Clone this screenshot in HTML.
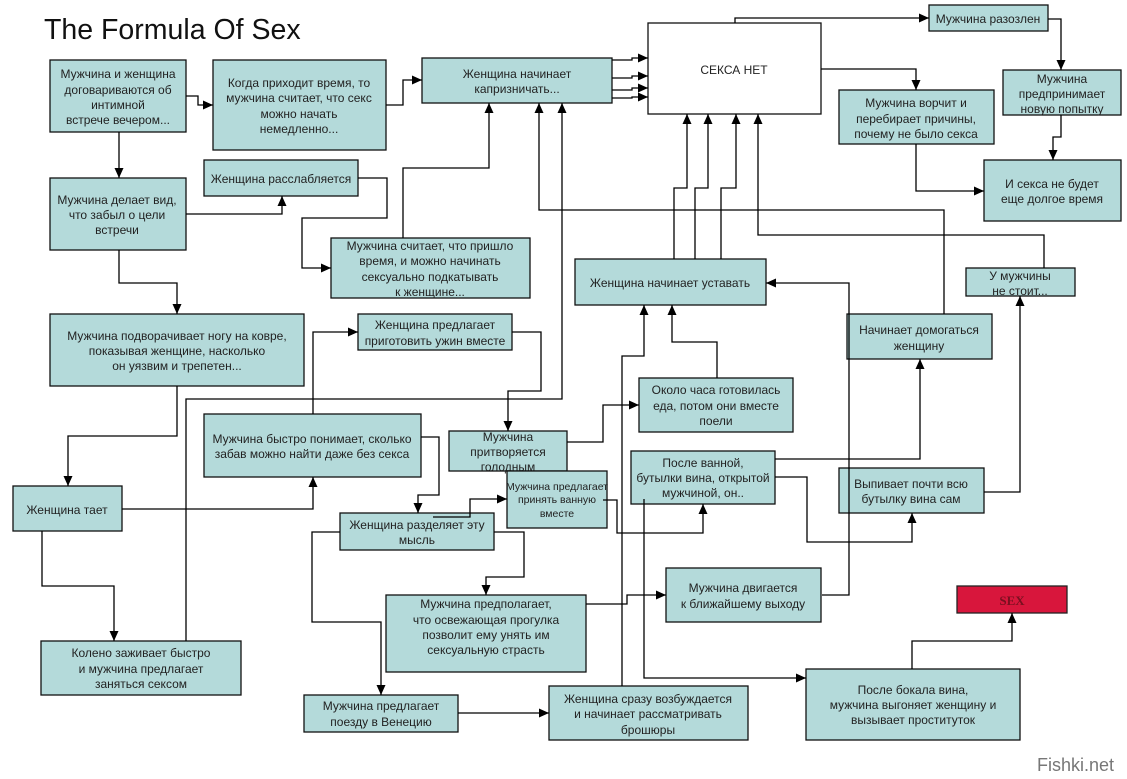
<!DOCTYPE html>
<html><head><meta charset="utf-8"><style>
html,body{margin:0;padding:0;background:#fff;}
svg{display:block;}
text{font-family:"Liberation Sans","DejaVu Sans",sans-serif;font-size:12px;fill:#222;}
.b{fill:#b4dada;stroke:#111;stroke-width:1.3;}
.l{fill:none;stroke:#000;stroke-width:1.3;}
</style></head><body>
<svg width="1127" height="779" viewBox="0 0 1127 779" xmlns="http://www.w3.org/2000/svg">
<defs><marker id="a" markerUnits="userSpaceOnUse" markerWidth="10" markerHeight="9" refX="10" refY="4.5" orient="auto"><path d="M0,0 L10,4.5 L0,9 z" fill="#000"/></marker></defs>
<text x="44" y="39" style="font-size:28.5px;fill:#111">The Formula Of Sex</text>

<g>
<rect class="b" x="50" y="60" width="136" height="72"/>
<text text-anchor="middle"><tspan x="118" y="78">Мужчина и женщина</tspan><tspan x="118" y="94">договариваются об</tspan><tspan x="118" y="109">интимной</tspan><tspan x="118" y="124">встрече вечером...</tspan></text>
<rect class="b" x="213" y="60" width="173" height="90"/>
<text text-anchor="middle"><tspan x="299" y="87">Когда приходит время, то</tspan><tspan x="299" y="102">мужчина считает, что секс</tspan><tspan x="299" y="118">можно начать</tspan><tspan x="299" y="133">немедленно...</tspan></text>
<rect class="b" x="422" y="58" width="190" height="45"/>
<text text-anchor="middle"><tspan x="517" y="78">Женщина начинает</tspan><tspan x="517" y="93">капризничать...</tspan></text>
<rect x="648" y="23" width="173" height="91" fill="#fff" stroke="#111" stroke-width="1.3"/>
<text x="734" y="74" text-anchor="middle">СЕКСА НЕТ</text>
<rect class="b" x="929" y="5" width="119" height="26"/>
<text x="988" y="23" text-anchor="middle">Мужчина разозлен</text>
<rect class="b" x="1003" y="70" width="118" height="45"/>
<text text-anchor="middle"><tspan x="1062" y="83">Мужчина</tspan><tspan x="1062" y="98">предпринимает</tspan><tspan x="1062" y="113">новую попытку</tspan></text>
<rect class="b" x="839" y="90" width="155" height="54"/>
<text text-anchor="middle"><tspan x="916" y="107">Мужчина ворчит и</tspan><tspan x="916" y="123">перебирает причины,</tspan><tspan x="916" y="138">почему не было секса</tspan></text>
<rect class="b" x="984" y="160" width="137" height="61"/>
<text text-anchor="middle"><tspan x="1052" y="188">И секса не будет</tspan><tspan x="1052" y="203">еще долгое время</tspan></text>
<rect class="b" x="50" y="178" width="136" height="72"/>
<text text-anchor="middle"><tspan x="117" y="204">Мужчина делает вид,</tspan><tspan x="117" y="219">что забыл о цели</tspan><tspan x="117" y="234">встречи</tspan></text>
<rect class="b" x="204" y="160" width="154" height="36"/>
<text x="281" y="183" text-anchor="middle">Женщина расслабляется</text>
<rect class="b" x="331" y="238" width="199" height="60"/>
<text text-anchor="middle"><tspan x="430" y="250">Мужчина считает, что пришло</tspan><tspan x="430" y="265">время, и можно начинать</tspan><tspan x="430" y="281">сексуально подкатывать</tspan><tspan x="430" y="296">к женщине...</tspan></text>
<rect class="b" x="575" y="259" width="191" height="46"/>
<text x="670" y="287" text-anchor="middle">Женщина начинает уставать</text>
<rect class="b" x="966" y="268" width="109" height="28"/>
<text text-anchor="middle"><tspan x="1020" y="280">У мужчины</tspan><tspan x="1020" y="295">не стоит...</tspan></text>
<rect class="b" x="50" y="314" width="254" height="72"/>
<text text-anchor="middle"><tspan x="177" y="340">Мужчина подворачивает ногу на ковре,</tspan><tspan x="177" y="355">показывая женщине, насколько</tspan><tspan x="177" y="370">он уязвим и трепетен...</tspan></text>
<rect class="b" x="358" y="314" width="154" height="36"/>
<text text-anchor="middle"><tspan x="435" y="329">Женщина предлагает</tspan><tspan x="435" y="345">приготовить ужин вместе</tspan></text>
<rect class="b" x="847" y="314" width="145" height="45"/>
<text text-anchor="middle"><tspan x="919" y="334">Начинает домогаться</tspan><tspan x="919" y="350">женщину</tspan></text>
<rect class="b" x="639" y="378" width="154" height="54"/>
<text text-anchor="middle"><tspan x="716" y="394">Около часа готовилась</tspan><tspan x="716" y="410">еда, потом они вместе</tspan><tspan x="716" y="425">поели</tspan></text>
<rect class="b" x="204" y="414" width="217" height="63"/>
<text text-anchor="middle"><tspan x="312" y="443">Мужчина быстро понимает, сколько</tspan><tspan x="312" y="458">забав можно найти даже без секса</tspan></text>
<rect class="b" x="449" y="431" width="118" height="40"/>
<text text-anchor="middle"><tspan x="508" y="441">Мужчина</tspan><tspan x="508" y="456">притворяется</tspan><tspan x="508" y="471">голодным</tspan></text>
<rect class="b" x="631" y="451" width="144" height="53"/>
<text text-anchor="middle"><tspan x="703" y="467">После ванной,</tspan><tspan x="703" y="482">бутылки вина, открытой</tspan><tspan x="703" y="497">мужчиной, он..</tspan></text>
<rect class="b" x="507" y="471" width="100" height="57"/>
<text text-anchor="middle" style="font-size:10.5px"><tspan x="557" y="490">Мужчина предлагает</tspan><tspan x="557" y="503">принять ванную</tspan><tspan x="557" y="517">вместе</tspan></text>
<rect class="b" x="839" y="468" width="145" height="45"/>
<text text-anchor="middle"><tspan x="911" y="488">Выпивает почти всю</tspan><tspan x="911" y="503">бутылку вина сам</tspan></text>
<rect class="b" x="13" y="486" width="109" height="45"/>
<text x="67" y="514" text-anchor="middle">Женщина тает</text>
<rect class="b" x="340" y="513" width="154" height="37"/>
<text text-anchor="middle"><tspan x="417" y="529">Женщина разделяет эту</tspan><tspan x="417" y="544">мысль</tspan></text>
<rect class="b" x="666" y="568" width="155" height="54"/>
<text text-anchor="middle"><tspan x="743" y="592">Мужчина двигается</tspan><tspan x="743" y="608">к ближайшему выходу</tspan></text>
<rect x="957" y="586" width="110" height="27" fill="#d8163c" stroke="#222" stroke-width="1.3"/>
<text x="1012" y="605" text-anchor="middle" style="font-family:'Liberation Serif',serif;font-size:13px;fill:#7a1020;font-weight:bold">SEX</text>
<rect class="b" x="386" y="595" width="200" height="77"/>
<text text-anchor="middle"><tspan x="486" y="608">Мужчина предполагает,</tspan><tspan x="486" y="624">что освежающая прогулка</tspan><tspan x="486" y="639">позволит ему унять им</tspan><tspan x="486" y="654">сексуальную страсть</tspan></text>
<rect class="b" x="41" y="641" width="200" height="54"/>
<text text-anchor="middle"><tspan x="141" y="657">Колено заживает быстро</tspan><tspan x="141" y="673">и мужчина предлагает</tspan><tspan x="141" y="688">заняться сексом</tspan></text>
<rect class="b" x="304" y="695" width="154" height="37"/>
<text text-anchor="middle"><tspan x="381" y="710">Мужчина предлагает</tspan><tspan x="381" y="726">поезду в Венецию</tspan></text>
<rect class="b" x="549" y="686" width="199" height="54"/>
<text text-anchor="middle"><tspan x="648" y="703">Женщина сразу возбуждается</tspan><tspan x="648" y="718">и начинает рассматривать</tspan><tspan x="648" y="734">брошюры</tspan></text>
<rect class="b" x="806" y="669" width="214" height="71"/>
<text text-anchor="middle"><tspan x="913" y="694">После бокала вина,</tspan><tspan x="913" y="709">мужчина выгоняет женщину и</tspan><tspan x="913" y="724">вызывает проституток</tspan></text>
</g>

<g class="l">
<polyline class="l" points="186,96 198,96 198,105 213,105" marker-end="url(#a)"/>
<polyline class="l" points="386,105 403,105 403,80 422,80" marker-end="url(#a)"/>
<polyline class="l" points="119,132 119,178" marker-end="url(#a)"/>
<polyline class="l" points="186,214 282,214 282,196" marker-end="url(#a)"/>
<polyline class="l" points="358,178 387,178 387,218 302,218 302,268 331,268" marker-end="url(#a)"/>
<polyline class="l" points="403,238 403,168 489,168 489,103" marker-end="url(#a)"/>
<polyline class="l" points="944,314 944,210 539,210 539,103" marker-end="url(#a)"/>
<polyline class="l" points="186,641 186,399 562,399 562,103" marker-end="url(#a)"/>
<polyline class="l" points="119,250 119,283 177,283 177,314" marker-end="url(#a)"/>
<polyline class="l" points="612,60 632,60 632,58 648,58" marker-end="url(#a)"/>
<polyline class="l" points="612,78 632,78 632,76 648,76" marker-end="url(#a)"/>
<polyline class="l" points="612,90 632,90 632,88 648,88" marker-end="url(#a)"/>
<polyline class="l" points="612,98 632,98 632,97 648,97" marker-end="url(#a)"/>
<polyline class="l" points="735,23 735,18 929,18" marker-end="url(#a)"/>
<polyline class="l" points="821,69 916,69 916,90" marker-end="url(#a)"/>
<polyline class="l" points="1048,19 1061,19 1061,70" marker-end="url(#a)"/>
<polyline class="l" points="1061,115 1061,137 1053,137 1053,160" marker-end="url(#a)"/>
<polyline class="l" points="916,144 916,191 984,191" marker-end="url(#a)"/>
<polyline class="l" points="674,259 674,188 687,188 687,114" marker-end="url(#a)"/>
<polyline class="l" points="695,259 695,188 708,188 708,114" marker-end="url(#a)"/>
<polyline class="l" points="721,259 721,188 736,188 736,114" marker-end="url(#a)"/>
<polyline class="l" points="1044,268 1044,235 758,235 758,114" marker-end="url(#a)"/>
<polyline class="l" points="822,595 849,595 849,283 766,283" marker-end="url(#a)"/>
<polyline class="l" points="177,386 177,436 68,436 68,486" marker-end="url(#a)"/>
<polyline class="l" points="122,509 313,509 313,477" marker-end="url(#a)"/>
<polyline class="l" points="313,414 313,332 358,332" marker-end="url(#a)"/>
<polyline class="l" points="512,332 541,332 541,391 508,391 508,431" marker-end="url(#a)"/>
<polyline class="l" points="421,437 439,437 439,495 418,495 418,513" marker-end="url(#a)"/>
<polyline class="l" points="433,517 470,517 470,499 507,499" marker-end="url(#a)"/>
<polyline class="l" points="340,532 312,532 312,622 381,622 381,695" marker-end="url(#a)"/>
<polyline class="l" points="494,532 524,532 524,577 486,577 486,595" marker-end="url(#a)"/>
<polyline class="l" points="42,531 42,586 114,586 114,641" marker-end="url(#a)"/>
<polyline class="l" points="458,713 549,713" marker-end="url(#a)"/>
<polyline class="l" points="567,442 603,442 603,405 639,405" marker-end="url(#a)"/>
<polyline class="l" points="622,686 622,356 644,356 644,305" marker-end="url(#a)"/>
<polyline class="l" points="717,378 717,342 672,342 672,305" marker-end="url(#a)"/>
<polyline class="l" points="603,500 617,500 617,533 703,533 703,504" marker-end="url(#a)"/>
<polyline class="l" points="644,499 644,678 806,678" marker-end="url(#a)"/>
<polyline class="l" points="775,459 920,459 920,359" marker-end="url(#a)"/>
<polyline class="l" points="775,477 807,477 807,542 912,542 912,513" marker-end="url(#a)"/>
<polyline class="l" points="586,604 627,604 627,595 666,595" marker-end="url(#a)"/>
<polyline class="l" points="984,492 1020,492 1020,296" marker-end="url(#a)"/>
<polyline class="l" points="912,669 912,641 1012,641 1012,613" marker-end="url(#a)"/>
</g>
<text x="1037" y="771" style="font-size:18px;fill:#777">Fishki.net</text>
</svg>
</body></html>
